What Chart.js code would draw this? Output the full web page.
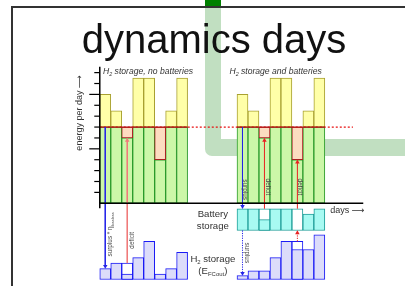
<!DOCTYPE html>
<html>
<head>
<meta charset="utf-8">
<title>dynamics days</title>
<script src="https://cdn.jsdelivr.net/npm/chart.js@4.4.1/dist/chart.umd.min.js"></script>
<style>
  html, body { margin: 0; padding: 0; background: #fff; }
  canvas { display: block; }
</style>
</head>
<body>
<canvas id="daysChart" width="405" height="286"></canvas>
<script>
// values, in "energy units" (one y-axis tick = 1)
const days = [1, 2, 3, 4, 5, 6, 7, 8];
const production = [10, 8.5, 6, 11.5, 11.5, 4, 8.5, 11.5];
const demand = 7;
const energyTicks = [1, 2, 3, 4, 5, 6, 7, 8, 9, 10, 11, 12];
const majorTicks = [5, 10];

// H2 storage, no batteries
const h2NoBat = [1, 1.5, 0.5, 2, 3.5, 0.5, 1, 2.5];
const h2NoBatBefore = [null, null, 1.5, null, null, null, null, null];

// H2 storage and batteries
const batteryCharge = [2, 2, 1, 2, 2, 0, 1.5, 2];
const batteryBefore = [null, null, 2, null, null, 2, null, null];
const h2WithBat = [0.35, 0.8, 0.8, 2, 3.5, 2.75, 2.75, 4.1];
const h2WithBatBefore = [null, null, null, null, null, 3.5, null, null];

// layout (data units)
const leftStart = 0;
const rightStart = 12.5;
const batteryTop = -0.5;
const batteryCap = 2;
const batteryBottom = batteryTop - batteryCap;
const h2Base = -7;
const demandLineEnd = 23.06;
const axisEnd = 24;
const headLen = 0.22;

// pixel frame
const W = 405, H = 286;
const unitPx = 11.2, originX = 97.7, originY = 205;

const FONT = '"Liberation Sans", Arial, "DejaVu Sans", sans-serif';

function bars(start, ranges) {
  const out = [];
  ranges.forEach((r, i) => { if (r) out.push({ x: start + i + 0.5, y: r }); });
  return out;
}
const bothPanels = ranges => bars(leftStart, ranges).concat(bars(rightStart, ranges));

const greenRanges = production.map(p => [0, Math.min(p, demand)]);
const surplusRanges = production.map(p => p > demand ? [demand, p] : null);
const deficitRanges = production.map(p => p < demand ? [p, demand] : null);
const level = (base, vals) => vals.map(v => v ? [base, base + v] : null);

const barOpts = {
  type: 'bar',
  grouped: false,
  barPercentage: 1,
  categoryPercentage: 1,
  borderWidth: 1,
  borderSkipped: false
};

function arrow(x, from, to, color, dash, width) {
  const down = to < from;
  const end = down ? to + headLen : to - headLen;
  return {
    type: 'line',
    data: [{ x: x, y: from }, { x: x, y: end }],
    borderColor: color,
    borderWidth: width || 1,
    borderDash: dash || [],
    pointStyle: 'triangle',
    pointRadius: [0, 2.6],
    pointRotation: down ? 180 : 0,
    pointBackgroundColor: color,
    pointBorderWidth: 0,
    order: 1
  };
}

const dayX = (start, d) => start + d - 0.5;

const datasets = [
  // outlines of the level before a deficit day
  Object.assign({}, barOpts, { data: bars(leftStart, level(h2Base, h2NoBatBefore)), backgroundColor: '#fff', borderColor: '#1a1af5', order: 6 }),
  Object.assign({}, barOpts, { data: bars(rightStart, level(h2Base, h2WithBatBefore)), backgroundColor: '#fff', borderColor: '#1a1af5', order: 6 }),
  Object.assign({}, barOpts, { data: bars(rightStart, level(batteryBottom, batteryBefore)), backgroundColor: '#fff', borderColor: '#1f9e98', order: 6 }),

  Object.assign({}, barOpts, { label: 'demand covered', data: bothPanels(greenRanges), backgroundColor: '#ccf7a8', borderColor: '#2a9a2a', order: 5 }),
  Object.assign({}, barOpts, { label: 'surplus', data: bothPanels(surplusRanges), backgroundColor: '#ffffa8', borderColor: '#a8a030', order: 5 }),
  Object.assign({}, barOpts, { label: 'deficit', data: bothPanels(deficitRanges), backgroundColor: '#fcdcc0', borderColor: '#a82020', order: 4 }),

  Object.assign({}, barOpts, { label: 'battery', data: bars(rightStart, level(batteryBottom, batteryCharge)), backgroundColor: '#a8faf2', borderColor: '#1f9e98', order: 5 }),
  Object.assign({}, barOpts, { label: 'H2 no batteries', data: bars(leftStart, level(h2Base, h2NoBat)), backgroundColor: '#dcdcfa', borderColor: '#1a1af5', order: 5 }),
  Object.assign({}, barOpts, { label: 'H2 with batteries', data: bars(rightStart, level(h2Base, h2WithBat)), backgroundColor: '#dcdcfa', borderColor: '#1a1af5', order: 5 }),

  // demand line: dotted across, solid over the bar groups
  { type: 'line', data: [{ x: 0, y: demand }, { x: demandLineEnd, y: demand }], borderColor: '#e81010', borderWidth: 1.2, borderDash: [2, 2], pointRadius: 0, order: 3 },
  { type: 'line', data: [{ x: leftStart, y: demand }, { x: leftStart + days.length, y: demand }, { x: 10, y: null }, { x: rightStart, y: demand }, { x: rightStart + days.length, y: demand }], borderColor: '#b01818', borderWidth: 1.2, pointRadius: 0, spanGaps: false, order: 2 },

  // arrows, no batteries
  arrow(dayX(leftStart, 1), demand, h2Base + h2NoBat[0], '#2424e8'),
  arrow(dayX(leftStart, 3), h2Base + h2NoBatBefore[2], production[2], '#f07a7a', [], 1.6),
  // arrows, with batteries
  arrow(dayX(rightStart, 1), demand, batteryTop, '#2424e8'),
  arrow(dayX(rightStart, 1), batteryBottom, h2Base + h2WithBat[0], '#2424e8', [1.2, 1.2]),
  arrow(dayX(rightStart, 3), batteryTop, production[2], '#e82020'),
  arrow(dayX(rightStart, 6), batteryTop, production[5], '#e82020'),
  arrow(dayX(rightStart, 6), h2Base + h2WithBatBefore[5], batteryBottom, '#e82020', [1.2, 1.2])
];

function rich(ctx, parts, x, y, size, align, color, italic) {
  const st = italic ? 'italic ' : '';
  const font = sub => st + (sub ? size * 0.62 : size) + 'px ' + FONT;
  let total = 0;
  parts.forEach(p => { ctx.font = font(p[1]); total += ctx.measureText(p[0]).width; });
  let cx = align === 'center' ? x - total / 2 : align === 'right' ? x - total : x;
  ctx.fillStyle = color;
  ctx.textAlign = 'left';
  ctx.textBaseline = 'alphabetic';
  parts.forEach(p => {
    ctx.font = font(p[1]);
    ctx.fillText(p[0], cx, y + (p[1] ? size * 0.22 : 0));
    cx += ctx.measureText(p[0]).width;
  });
}

function vText(ctx, parts, cx, cy, size, angle, color) {
  ctx.save();
  ctx.translate(cx, cy);
  ctx.rotate(angle);
  rich(ctx, parts, 0, size * 0.36, size, 'center', color);
  ctx.restore();
}

const slideBackground = {
  id: 'slideBackground',
  beforeDraw(chart) {
    const ctx = chart.ctx;
    ctx.save();
    ctx.fillStyle = '#fff';
    ctx.fillRect(0, 0, W, H);
    // green L shaped band behind the slide
    ctx.fillStyle = '#c1dfc1';
    ctx.beginPath();
    ctx.moveTo(205, 0);
    ctx.lineTo(221, 0);
    ctx.lineTo(221, 139);
    ctx.lineTo(W, 139);
    ctx.lineTo(W, 156);
    ctx.lineTo(212, 156);
    ctx.arcTo(205, 156, 205, 149, 7);
    ctx.closePath();
    ctx.fill();
    ctx.fillStyle = '#008000';
    ctx.fillRect(205, 0, 16, 6);
    // slide frame
    ctx.strokeStyle = '#333';
    ctx.lineWidth = 2;
    ctx.beginPath();
    ctx.moveTo(W, 7);
    ctx.lineTo(12, 7);
    ctx.lineTo(12, H);
    ctx.stroke();
    ctx.fillStyle = '#111';
    ctx.font = '40px ' + FONT;
    ctx.textAlign = 'center';
    ctx.textBaseline = 'alphabetic';
    ctx.fillText('dynamics days', 214, 53);
    ctx.restore();
  }
};

const annotations = {
  id: 'annotations',
  afterDatasetsDraw(chart) {
    const { ctx, scales: { x, y } } = chart;
    const px = v => x.getPixelForValue(v);
    const py = v => y.getPixelForValue(v);
    ctx.save();
    // axes
    ctx.strokeStyle = '#000';
    ctx.lineWidth = 1.5;
    ctx.beginPath();
    ctx.moveTo(px(0), py(-0.45));
    ctx.lineTo(px(0), py(12.55));
    ctx.moveTo(px(0), py(0));
    ctx.lineTo(px(axisEnd), py(0));
    ctx.stroke();
    ctx.lineWidth = 1.2;
    energyTicks.forEach(t => {
      const len = majorTicks.includes(t) ? 10.5 : 5.5;
      ctx.beginPath();
      ctx.moveTo(px(0) - len, py(t));
      ctx.lineTo(px(0), py(t));
      ctx.stroke();
    });

    const txt = '#333';
    rich(ctx, [['H'], ['2', 1], [' storage, no batteries']], px(0.3), py(11.875), 8.6, 'left', txt, true);
    rich(ctx, [['H'], ['2', 1], [' storage and batteries']], px(11.81), py(11.875), 8.6, 'left', txt, true);
    vText(ctx, [['energy per day \u27F6']], px(-1.94), py(8.3), 9, -Math.PI / 2, txt);
    rich(ctx, [['days \u27F6']], px(21.0), py(-0.85), 9, 'left', txt);
    rich(ctx, [['Battery']], px(10.3), py(-1.29), 9.6, 'center', txt);
    rich(ctx, [['storage']], px(10.3), py(-2.37), 9.6, 'center', txt);
    rich(ctx, [['H'], ['2', 1], [' storage']], px(10.3), py(-5.4), 9.6, 'center', txt);
    rich(ctx, [['(E'], ['FCout', 1], [')']], px(10.3), py(-6.47), 9.6, 'center', txt);

    const small = 6.4;
    vText(ctx, [['surplus * \u03B7'], ['lossless', 1]], px(0.93), py(-2.86), small, -Math.PI / 2, '#444');
    vText(ctx, [['deficit']], px(2.9), py(-3.4), small, -Math.PI / 2, '#444');
    vText(ctx, [['surplus']], px(13.3), py(1.25), small, Math.PI / 2, '#444');
    vText(ctx, [['deficit']], px(15.33), py(1.5), small, Math.PI / 2, '#444');
    vText(ctx, [['deficit']], px(18.3), py(1.5), small, Math.PI / 2, '#444');
    vText(ctx, [['surplus']], px(13.45), py(-4.55), small, Math.PI / 2, '#444');
    ctx.restore();
  }
};

const ctx = document.getElementById('daysChart').getContext('2d');
const daysChart = new Chart(ctx, {
  type: 'bar',
  data: { datasets: datasets },
  options: {
    responsive: false,
    animation: false,
    events: [],
    layout: { padding: 0 },
    plugins: { legend: { display: false }, tooltip: { enabled: false } },
    scales: {
      x: {
        type: 'linear',
        display: false,
        offset: false,
        min: -originX / unitPx,
        max: (W - originX) / unitPx,
        ticks: { stepSize: 5 }
      },
      y: {
        type: 'linear',
        display: false,
        min: (originY - H) / unitPx,
        max: originY / unitPx
      }
    }
  },
  plugins: [slideBackground, annotations]
});
</script>
</body>
</html>
